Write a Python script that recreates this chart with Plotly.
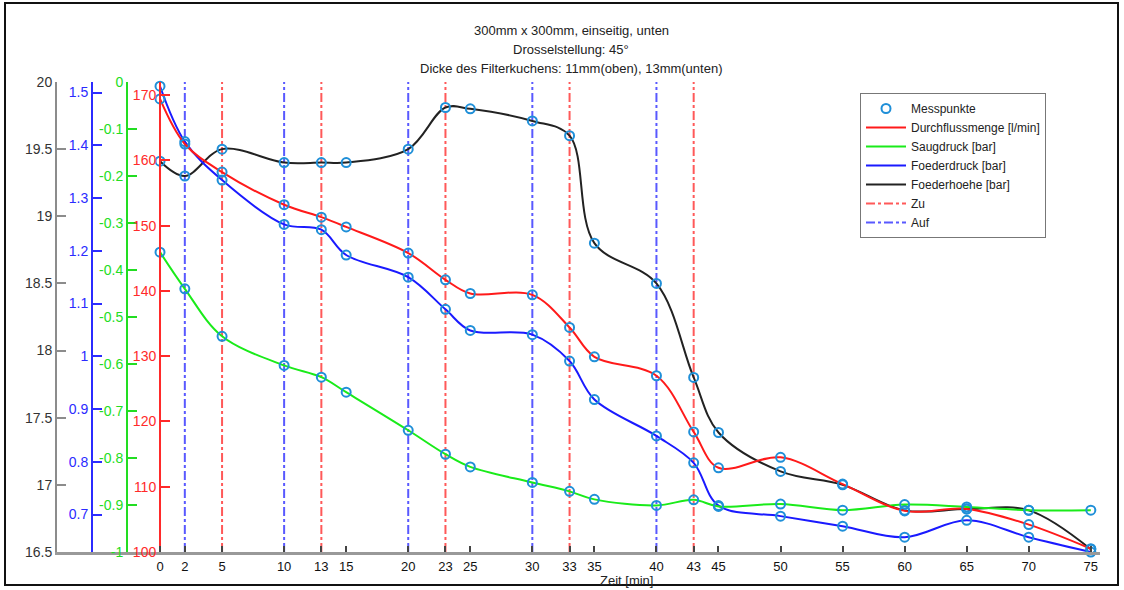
import plotly.graph_objects as go

# ---------------- data ----------------
zeit = [0, 2, 5, 10, 13, 15, 20, 23, 25, 30, 33, 35, 40, 43, 45, 50, 55, 60, 65, 70, 75]
durchfluss = [169.4, 162.5, 158.2, 153.2, 151.3, 149.8, 145.8, 141.7, 139.6, 139.4, 134.4,
              129.9, 127.0, 118.4, 112.9, 114.5, 110.4, 106.3, 106.6, 104.2, 100.5]
saugdruck = [-0.362, -0.440, -0.541, -0.603, -0.628, -0.660, -0.741, -0.792, -0.819, -0.852, -0.871,
             -0.888, -0.901, -0.889, -0.903, -0.898, -0.911, -0.899, -0.904, -0.911, -0.911]
foederdruck = [1.512, 1.407, 1.334, 1.250, 1.240, 1.192, 1.150, 1.089, 1.049, 1.041, 0.991,
               0.918, 0.849, 0.798, 0.717, 0.697, 0.678, 0.657, 0.689, 0.657, 0.629]
foederhoehe = [19.41, 19.30, 19.50, 19.40, 19.40, 19.40, 19.50, 19.81, 19.80, 19.71, 19.60,
               18.80, 18.50, 17.80, 17.39, 17.10, 17.00, 16.81, 16.82, 16.81, 16.52]
zu_zeiten = [0, 5, 13, 23, 33, 43]
auf_zeiten = [2, 10, 20, 30, 40]

x_ticks = zeit
black_ticks = [16.5, 17, 17.5, 18, 18.5, 19, 19.5, 20]
blue_ticks = [0.7, 0.8, 0.9, 1.0, 1.1, 1.2, 1.3, 1.4, 1.5]
blue_labels = ["0.7", "0.8", "0.9", "1", "1.1", "1.2", "1.3", "1.4", "1.5"]
green_ticks = [-1, -0.9, -0.8, -0.7, -0.6, -0.5, -0.4, -0.3, -0.2, -0.1, 0]
green_labels = ["-1", "-0.9", "-0.8", "-0.7", "-0.6", "-0.5", "-0.4", "-0.3", "-0.2", "-0.1", "0"]
red_ticks = [100, 110, 120, 130, 140, 150, 160, 170]

title_lines = ["300mm x 300mm, einseitig, unten",
               "Drosselstellung: 45°",
               "Dicke des Filterkuchens: 11mm(oben), 13mm(unten)"]

# ---------------- layout geometry ----------------
W, H = 1124, 590
L, R, T, B = 57, 24, 82, 38
pw = W - L - R
ph = H - T - B
x_range = [-8.3, 75.74]
black_range = [16.5, 20]
blue_range = [0.629, 1.52]
green_range = [-1, 0]
red_range = [100, 172]

def px_to_paper_x(p):
    return (p - L) / pw

def px_to_paper_y(p):
    return 1 - (p - T) / ph

FONT = "Liberation Sans, Arial, sans-serif"
RED = "#ff1a1a"
GREEN = "#1aeb1a"
BLUE = "#1a1aff"
BLACK = "#222222"
MARK = "#1f8fd8"

fig = go.Figure()

# vertical marker lines (Zu / Auf)
def vlines(times):
    xs, ys = [], []
    for t in times:
        xs += [t, t, None]
        ys += [black_range[0], black_range[1], None]
    return xs, ys

zx, zy = vlines(zu_zeiten)
ax_, ay_ = vlines(auf_zeiten)
fig.add_trace(go.Scatter(x=zx, y=zy, mode="lines", name="Zu", yaxis="y",
                         line=dict(color="rgba(255,60,60,0.85)", width=2, dash="dashdot"),
                         legendrank=6, hoverinfo="skip"))
fig.add_trace(go.Scatter(x=ax_, y=ay_, mode="lines", name="Auf", yaxis="y",
                         line=dict(color="rgba(60,60,255,0.85)", width=2, dash="dashdot"),
                         legendrank=7, hoverinfo="skip"))

series = [
    ("Durchflussmenge [l/min]", durchfluss, RED, "y4", 2),
    ("Saugdruck [bar]", saugdruck, GREEN, "y3", 3),
    ("Foederdruck [bar]", foederdruck, BLUE, "y2", 4),
    ("Foederhoehe [bar]", foederhoehe, BLACK, "y", 5),
]
for name, vals, col, yax, rank in series:
    fig.add_trace(go.Scatter(x=zeit, y=vals, mode="lines", name=name, yaxis=yax,
                             line=dict(color=col, width=2, shape="spline", smoothing=1.0),
                             legendrank=rank))

first = True
for name, vals, col, yax, rank in series:
    fig.add_trace(go.Scatter(x=zeit, y=vals, mode="markers", name="Messpunkte", yaxis=yax,
                             marker=dict(symbol="circle-open", size=9, color=MARK,
                                         line=dict(width=2, color=MARK)),
                             legendgroup="mess", showlegend=first, legendrank=1,
                             cliponaxis=False))
    first = False

def yax(rng, col, tickvals, ticktext, pos=None, overlay=True, linecol=None):
    d = dict(range=rng, tickvals=tickvals, ticktext=ticktext, ticks="inside", ticklen=9,
             tickwidth=1.5, tickcolor=linecol or col, showline=True, linecolor=linecol or col,
             linewidth=2, showgrid=False, zeroline=False, side="left",
             tickfont=dict(family=FONT, size=14, color=col), fixedrange=True)
    if overlay:
        d.update(overlaying="y", anchor="free", position=pos)
    return d

red_pos = (0 - x_range[0]) / (x_range[1] - x_range[0])

fig.update_layout(
    width=W, height=H,
    margin=dict(l=L, r=R, t=T, b=B, pad=0),
    paper_bgcolor="white", plot_bgcolor="white",
    font=dict(family=FONT, size=13, color="#222"),
    showlegend=True,
    xaxis=dict(range=x_range, domain=[0, 1], tickvals=x_ticks, ticktext=[str(v) for v in x_ticks],
               ticks="inside", ticklen=6, tickcolor="#444", tickwidth=1.5,
               showline=True, linecolor="#999999", linewidth=3, showgrid=False, zeroline=False,
               tickfont=dict(family=FONT, size=13, color="#111"), fixedrange=True),
    yaxis=yax(black_range, "#333333", black_ticks, [str(v) for v in black_ticks],
              overlay=False, linecol="#8c8c8c"),
    yaxis2=yax(blue_range, "#2b2bff", blue_ticks, blue_labels, pos=px_to_paper_x(92)),
    yaxis3=yax(green_range, "#22dd22", green_ticks, green_labels, pos=px_to_paper_x(127)),
    yaxis4=yax(red_range, "#ff2a2a", red_ticks, [str(v) for v in red_ticks], pos=red_pos),
    legend=dict(x=px_to_paper_x(860), y=px_to_paper_y(93), xanchor="left", yanchor="top",
                bgcolor="white", bordercolor="#777", borderwidth=1,
                font=dict(family=FONT, size=12, color="#222"), tracegroupgap=0,
                itemwidth=40),
)

# title lines
for txt, py in zip(title_lines, [31, 50, 69]):
    fig.add_annotation(text=txt, x=px_to_paper_x(571), y=px_to_paper_y(py), xref="paper", yref="paper",
                       showarrow=False, xanchor="center", yanchor="middle",
                       font=dict(family=FONT, size=13, color="#222"))

fig.add_annotation(text="Zeit [min]", x=px_to_paper_x(626), y=px_to_paper_y(580), xref="paper",
                   yref="paper", showarrow=False, xanchor="center", yanchor="middle",
                   font=dict(family=FONT, size=13, color="#222"))

# outer frame
fig.add_shape(type="rect", xref="paper", yref="paper",
              x0=px_to_paper_x(5), x1=px_to_paper_x(1118), y0=px_to_paper_y(585), y1=px_to_paper_y(3),
              line=dict(color="#111", width=2), fillcolor="rgba(0,0,0,0)", layer="below")

fig.write_html("out.html", config={"displayModeBar": False},
               post_script="document.body.style.margin='0';document.body.style.overflow='hidden';")
